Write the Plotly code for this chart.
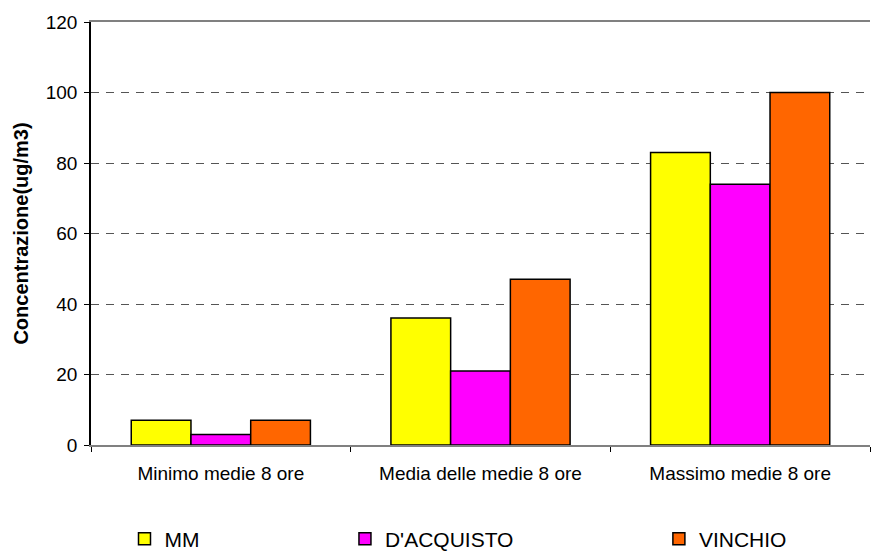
import plotly.graph_objects as go

# Concentration statistics of 8-hour means per monitoring station
categories = ["Minimo medie 8 ore", "Media delle medie 8 ore", "Massimo medie 8 ore"]
mm = [7, 36, 83]
dacquisto = [3, 21, 74]
vinchio = [7, 47, 100]
y_ticks = [0, 20, 40, 60, 80, 100, 120]

series = [
    ("MM", mm, "#FFFF00", "legend", 0.043),
    ("D'ACQUISTO", dacquisto, "#FF00FF", "legend2", 0.326),
    ("VINCHIO", vinchio, "#FF6600", "legend3", 0.729),
]

FONT = "Arial, Liberation Sans, sans-serif"

fig = go.Figure()
for name, vals, color, leg, _ in series:
    fig.add_trace(go.Bar(
        x=categories, y=vals, name=name, legend=leg,
        marker=dict(color=color, line=dict(color="#000000", width=1.5)),
    ))

legend_common = dict(
    orientation="h", yanchor="top", y=-0.174, xanchor="left",
    font=dict(family=FONT, size=21, color="#000000"),
    bgcolor="rgba(0,0,0,0)", itemwidth=30,
)
layout_legends = {}
for name, vals, color, leg, xpos in series:
    layout_legends[leg] = dict(legend_common, x=xpos)

fig.update_layout(
    width=871, height=554,
    margin=dict(l=91, r=1, t=22, b=109, autoexpand=False),
    paper_bgcolor="#FFFFFF", plot_bgcolor="#FFFFFF",
    barmode="group", bargap=0.31, bargroupgap=0,
    showlegend=True,
    font=dict(family=FONT, size=19, color="#000000"),
    **layout_legends,
)

fig.update_xaxes(
    type="category", tickson="boundaries", ticks="outside", ticklen=5,
    tickcolor="#000000", showline=True, linecolor="#808080", linewidth=1.5,
    mirror=True, showgrid=False, tickfont=dict(size=19, color="#000000"),
    ticklabelstandoff=10,
)
fig.update_yaxes(
    range=[0, 120], tickvals=y_ticks, ticks="outside", ticklen=5,
    tickcolor="#000000", showline=True, linecolor="#000000", linewidth=1.5,
    showgrid=True, gridcolor="#555555", gridwidth=1, griddash="8px,7px",
    zeroline=False, tickfont=dict(size=19, color="#000000"),
    ticklabelstandoff=3,
    title=dict(text="<b>Concentrazione(ug/m3)</b>", font=dict(size=20, color="#000000"), standoff=12),
)

fig.write_html("out.html")
